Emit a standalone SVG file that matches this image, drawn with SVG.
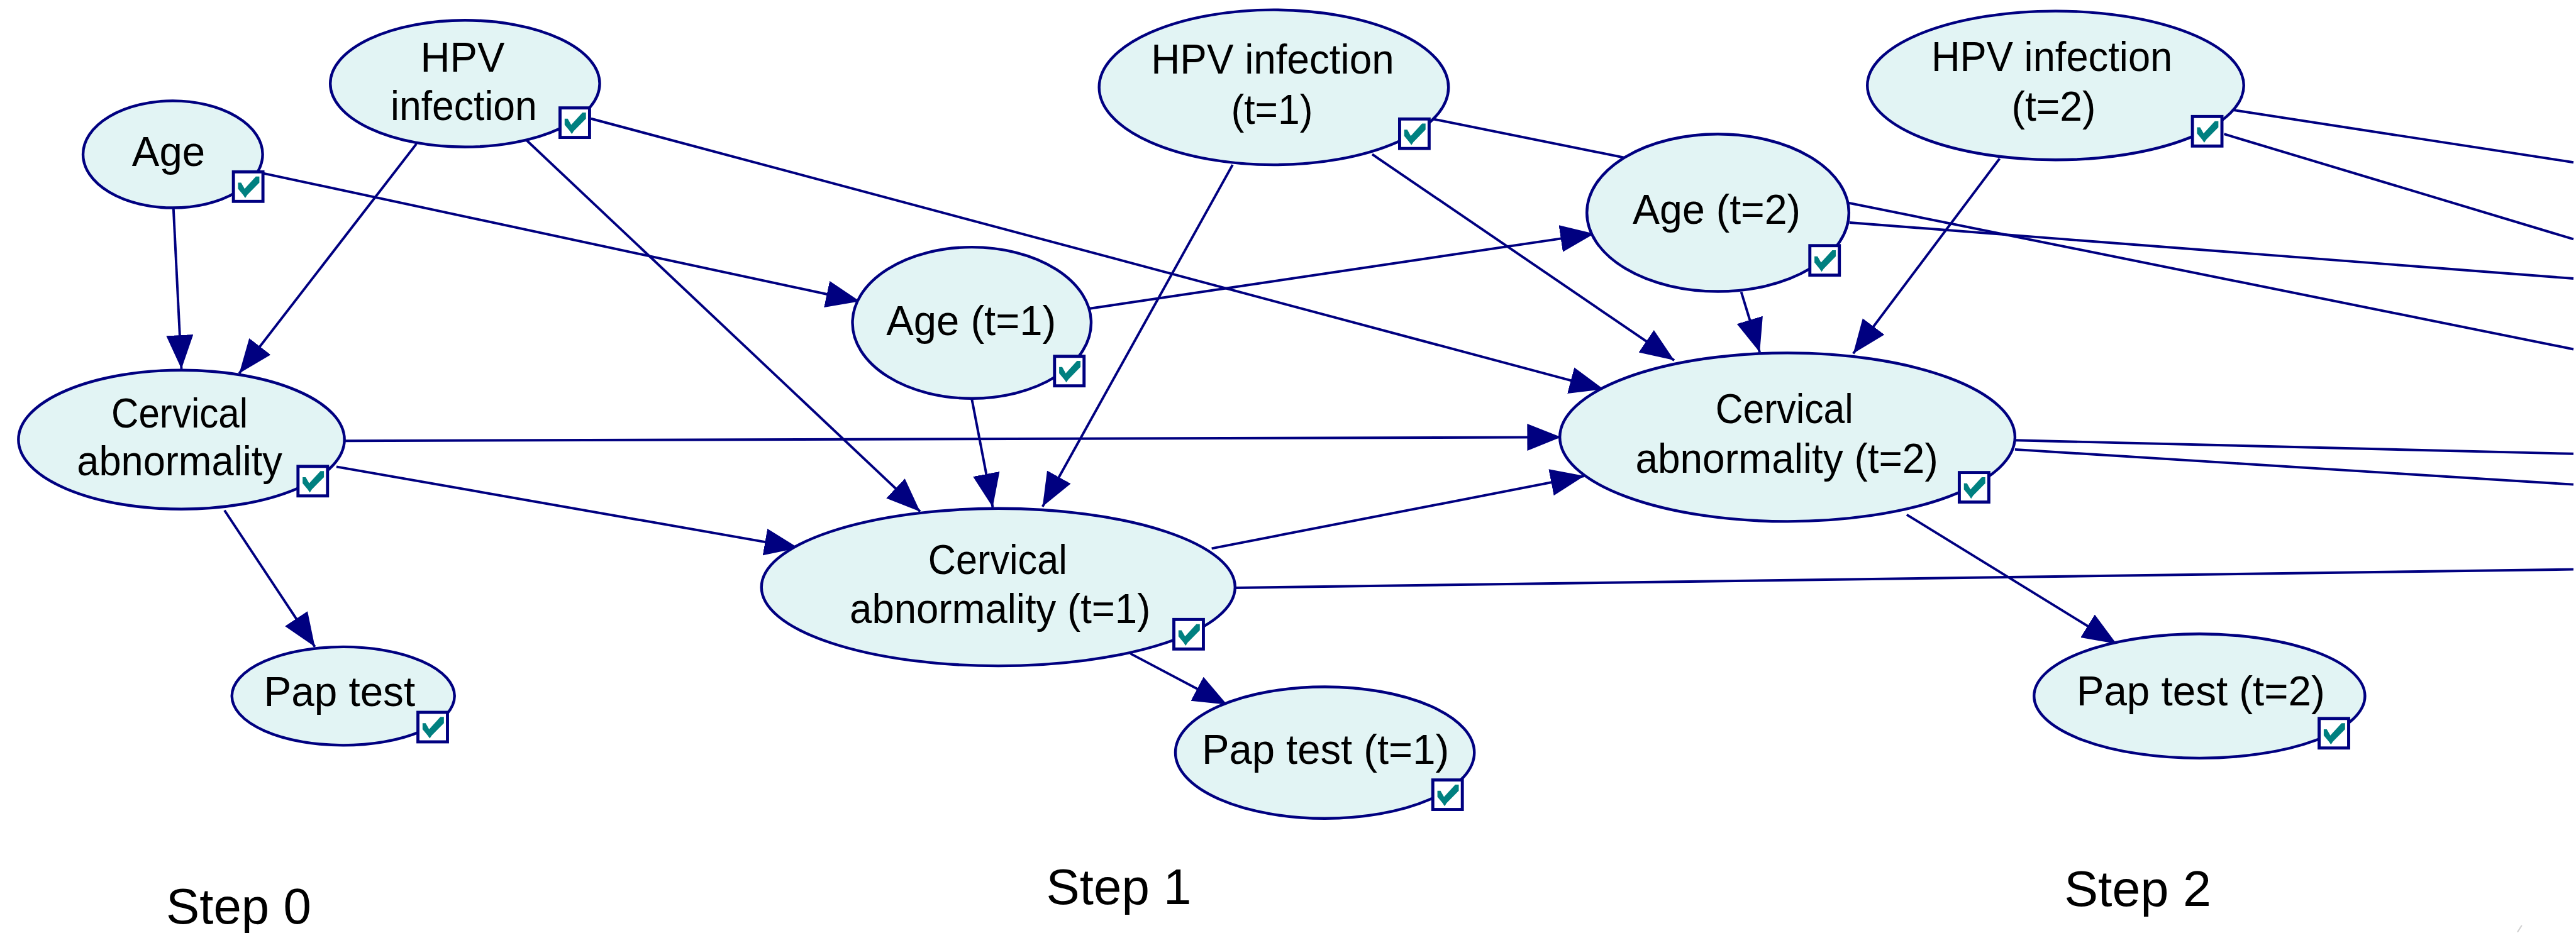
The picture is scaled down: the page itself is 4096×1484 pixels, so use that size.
<svg xmlns="http://www.w3.org/2000/svg" xmlns:xlink="http://www.w3.org/1999/xlink" width="4096" height="1484" viewBox="0 0 4096 1484">
  <style>
    .node ellipse { fill: #E2F4F4; stroke: #000080; stroke-width: 4.5; }
    .lbl { font-family: "Liberation Sans", Arial, sans-serif; font-size: 68px; fill: #000; text-anchor: middle; }
    .step { font-family: "Liberation Sans", Arial, sans-serif; font-size: 82px; fill: #000; }
    .edges line { stroke: #000080; stroke-width: 4; fill: none; }
    .edges line.arc { marker-end: url(#arrow); }
  </style>
  <defs>
    <marker id="arrow" markerUnits="userSpaceOnUse" markerWidth="58" markerHeight="46" refX="55" refY="22" orient="auto">
      <path d="M0,0 L55,22 L0,44 Z" fill="#000080"/>
    </marker>
    <!-- small "observed" tick box shown on every node -->
    <g id="tick">
      <rect x="2.5" y="2.5" width="48" height="48" fill="#FFFFFF" stroke="#000080" stroke-width="5"/>
      <polygon points="10,20 15,20 20.7,30 39,10 44.7,10 44.7,20 25,40 21.7,45 18.3,40 10,30" fill="#008080"/>
    </g>
  </defs>

  <rect x="0" y="0" width="4096" height="1484" fill="#FFFFFF"/>

  <g transform="scale(0.978)">
    <!-- arcs between variables -->
    <g id="connectors" class="edges">
      <!-- step 0 -->
      <line class="arc" x1="282" y1="339" x2="295" y2="600"/>
      <line class="arc" x1="677" y1="234" x2="389" y2="607"/>
      <line class="arc" x1="365" y1="830" x2="512" y2="1052"/>
      <!-- step 0 to step 1 / step 2 -->
      <line class="arc" x1="429" y1="282" x2="1398" y2="490"/>
      <line class="arc" x1="856" y1="228" x2="1496" y2="832"/>
      <line class="arc" x1="961" y1="193" x2="2607" y2="633"/>
      <line class="arc" x1="559" y1="717" x2="2538" y2="711"/>
      <line class="arc" x1="547" y1="759" x2="1298" y2="891"/>
      <!-- step 1 -->
      <line class="arc" x1="1580" y1="649" x2="1614" y2="825"/>
      <line class="arc" x1="2004" y1="268" x2="1695" y2="824"/>
      <line class="arc" x1="1838" y1="1063" x2="1995" y2="1146"/>
      <!-- step 1 to step 2 -->
      <line class="arc" x1="1770" y1="502" x2="2592" y2="380"/>
      <line class="arc" x1="2231" y1="251" x2="2722" y2="586"/>
      <line class="arc" x1="1970" y1="892" x2="2576" y2="774"/>
      <!-- step 2 -->
      <line class="arc" x1="2831" y1="475" x2="2861" y2="573"/>
      <line class="arc" x1="3251" y1="258" x2="3013" y2="575"/>
      <line class="arc" x1="3100" y1="837" x2="3441" y2="1047"/>
      <!-- arcs running on to the next step, beyond the right border -->
      <line x1="2327" y1="193" x2="4184" y2="568"/>
      <line x1="2008" y1="956" x2="4184" y2="926"/>
      <line x1="3631" y1="179" x2="4184" y2="264"/>
      <line x1="3616" y1="218" x2="4184" y2="389"/>
      <line x1="3007" y1="362" x2="4184" y2="453"/>
      <line x1="3276" y1="716" x2="4184" y2="738"/>
      <line x1="3276" y1="731" x2="4184" y2="788"/>
    </g>

    <!-- step 0 -->
    <g id="age0" class="node">
      <ellipse cx="281" cy="251" rx="146" ry="87"/>
      <text class="lbl" x="274" y="270" textLength="119" lengthAdjust="spacingAndGlyphs">Age</text>
      <use xlink:href="#tick" x="377" y="277"/>
    </g>
    <g id="hpv0" class="node">
      <ellipse cx="756" cy="136" rx="219" ry="103"/>
      <text class="lbl" x="752" y="117" textLength="137" lengthAdjust="spacingAndGlyphs">HPV</text>
      <text class="lbl" x="754" y="195" textLength="238" lengthAdjust="spacingAndGlyphs">infection</text>
      <use xlink:href="#tick" x="908" y="173"/>
    </g>
    <g id="cerv0" class="node">
      <ellipse cx="295" cy="715" rx="265" ry="113"/>
      <text class="lbl" x="292" y="695" textLength="222" lengthAdjust="spacingAndGlyphs">Cervical</text>
      <text class="lbl" x="292" y="773" textLength="334" lengthAdjust="spacingAndGlyphs">abnormality</text>
      <use xlink:href="#tick" x="482" y="756"/>
    </g>
    <g id="pap0" class="node">
      <ellipse cx="558" cy="1132" rx="181" ry="80"/>
      <text class="lbl" x="552" y="1148" textLength="246" lengthAdjust="spacingAndGlyphs">Pap test</text>
      <use xlink:href="#tick" x="677" y="1156"/>
    </g>

    <!-- step 1 -->
    <g id="hpv1" class="node">
      <ellipse cx="2071" cy="142" rx="284" ry="126"/>
      <text class="lbl" x="2069" y="120" textLength="395" lengthAdjust="spacingAndGlyphs">HPV infection</text>
      <text class="lbl" x="2068" y="201" textLength="133" lengthAdjust="spacingAndGlyphs">(t=1)</text>
      <use xlink:href="#tick" x="2273" y="191"/>
    </g>
    <g id="age1" class="node">
      <ellipse cx="1580" cy="525" rx="194" ry="123"/>
      <text class="lbl" x="1579" y="545" textLength="276" lengthAdjust="spacingAndGlyphs">Age (t=1)</text>
      <use xlink:href="#tick" x="1712" y="577"/>
    </g>
    <g id="cerv1" class="node">
      <ellipse cx="1623" cy="955" rx="385" ry="128"/>
      <text class="lbl" x="1622" y="934" textLength="226" lengthAdjust="spacingAndGlyphs">Cervical</text>
      <text class="lbl" x="1626" y="1013" textLength="489" lengthAdjust="spacingAndGlyphs">abnormality (t=1)</text>
      <use xlink:href="#tick" x="1906" y="1005"/>
    </g>
    <g id="pap1" class="node">
      <ellipse cx="2154" cy="1224" rx="243" ry="107"/>
      <text class="lbl" x="2155" y="1242" textLength="402" lengthAdjust="spacingAndGlyphs">Pap test (t=1)</text>
      <use xlink:href="#tick" x="2327" y="1266"/>
    </g>

    <!-- step 2 -->
    <g id="hpv2" class="node">
      <ellipse cx="3342" cy="139" rx="306" ry="121"/>
      <text class="lbl" x="3336" y="116" textLength="392" lengthAdjust="spacingAndGlyphs">HPV infection</text>
      <text class="lbl" x="3339" y="196" textLength="137" lengthAdjust="spacingAndGlyphs">(t=2)</text>
      <use xlink:href="#tick" x="3562" y="187"/>
    </g>
    <g id="age2" class="node">
      <ellipse cx="2793" cy="346" rx="213" ry="128"/>
      <text class="lbl" x="2791" y="364" textLength="273" lengthAdjust="spacingAndGlyphs">Age (t=2)</text>
      <use xlink:href="#tick" x="2940" y="397"/>
    </g>
    <g id="cerv2" class="node">
      <ellipse cx="2906" cy="711" rx="370" ry="137"/>
      <text class="lbl" x="2901" y="688" textLength="224" lengthAdjust="spacingAndGlyphs">Cervical</text>
      <text class="lbl" x="2905" y="769" textLength="492" lengthAdjust="spacingAndGlyphs">abnormality (t=2)</text>
      <use xlink:href="#tick" x="3183" y="766"/>
    </g>
    <g id="pap2" class="node">
      <ellipse cx="3576" cy="1132" rx="269" ry="101"/>
      <text class="lbl" x="3578" y="1147" textLength="404" lengthAdjust="spacingAndGlyphs">Pap test (t=2)</text>
      <use xlink:href="#tick" x="3768" y="1166"/>
    </g>

    <!-- time-slice captions -->
    <g id="captions">
      <text class="step" x="270" y="1502" textLength="236" lengthAdjust="spacingAndGlyphs">Step 0</text>
      <text class="step" x="1701" y="1470" textLength="236" lengthAdjust="spacingAndGlyphs">Step 1</text>
      <text class="step" x="3356" y="1473" textLength="239" lengthAdjust="spacingAndGlyphs">Step 2</text>
    </g>

    <line x1="4093" y1="1516" x2="4100" y2="1505" stroke="#D0D0D0" stroke-width="2"/>
  </g>
</svg>
